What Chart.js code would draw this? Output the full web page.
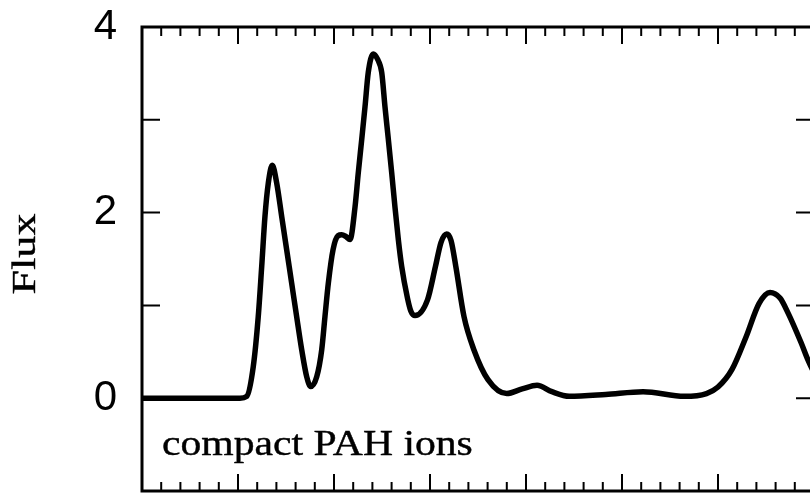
<!DOCTYPE html>
<html>
<head>
<meta charset="utf-8">
<script src="https://cdn.jsdelivr.net/npm/chart.js@4"></script>
<style>
  html, body { margin: 0; padding: 0; background: #fff; overflow: hidden; }
  #wrap { width: 830px; height: 493px; }
</style>
</head>
<body>
<div id="wrap"><canvas id="spectrum" width="830" height="493"></canvas></div>
<script>
// spectrum samples (x in axis units, flux)
const xPos = [0, 1.02, 1.091, 1.159, 1.211, 1.247, 1.281, 1.316, 1.357, 1.403, 1.455, 1.507, 1.559, 1.611, 1.664,
  1.716, 1.757, 1.820, 1.872, 1.906, 1.941, 1.990, 2.042, 2.080, 2.12, 2.167, 2.219, 2.253, 2.289, 2.323, 2.357,
  2.409, 2.455, 2.497, 2.531, 2.566, 2.601, 2.635, 2.670, 2.705, 2.765, 2.80, 2.844, 2.974, 3.057, 3.115, 3.174,
  3.219, 3.269, 3.354, 3.458, 3.604, 3.799, 3.96, 4.115, 4.27, 4.45, 4.83, 5.22, 5.65, 5.88, 6.0, 6.146, 6.292,
  6.427, 6.542, 6.646, 6.729, 6.865, 6.938, 7.06];
const flux = [0, 0, 0.02, 0.34, 0.88, 1.42, 1.96, 2.32, 2.51, 2.32, 1.96, 1.60, 1.24, 0.88, 0.52,
  0.23, 0.125, 0.23, 0.52, 0.88, 1.24, 1.60, 1.75, 1.76, 1.745, 1.71, 2.06, 2.43, 2.79, 3.14, 3.51,
  3.71, 3.65, 3.51, 3.14, 2.79, 2.43, 2.06, 1.71, 1.42, 1.08, 0.94, 0.89, 1.06, 1.42, 1.68, 1.77,
  1.70, 1.42, 0.88, 0.52, 0.2, 0.05, 0.10, 0.14, 0.07, 0.02, 0.04, 0.07, 0.02, 0.05, 0.12, 0.31, 0.66,
  1.02, 1.14, 1.08, 0.92, 0.6, 0.41, 0.15];

const yLabels = ['0', '2', '4'];
const yTitle = 'Flux';
const panelLabel = 'compact PAH ions';

// frame, inward ticks and text
const framePlugin = {
  id: 'frame',
  afterDraw(chart) {
    const { ctx, chartArea: a, scales: { x, y } } = chart;
    ctx.save();
    ctx.strokeStyle = '#000';
    ctx.lineWidth = 3;
    ctx.strokeRect(a.left, a.top, a.right - a.left, a.bottom - a.top);

    ctx.lineWidth = 2;
    ctx.beginPath();
    for (let i = 0; i <= 35; i++) {
      const v = i / 5;
      const px = x.getPixelForValue(v);
      const len = i % 5 === 0 ? 17 : 9;
      ctx.moveTo(px, a.top); ctx.lineTo(px, a.top + len);
      ctx.moveTo(px, a.bottom); ctx.lineTo(px, a.bottom - len);
    }
    for (let v = -1; v <= 4; v++) {
      const py = y.getPixelForValue(v);
      ctx.moveTo(a.left, py); ctx.lineTo(a.left + 18, py);
      ctx.moveTo(a.right, py); ctx.lineTo(a.right - 18, py);
    }
    ctx.stroke();

    ctx.fillStyle = '#000';
    ctx.lineWidth = 0.4;
    // axis title, stretched along its length
    ctx.save();
    ctx.translate(26, (a.top + a.bottom) / 2 - 5);
    ctx.rotate(-Math.PI / 2);
    ctx.scale(1.3, 1);
    ctx.font = '34px "Liberation Serif"';
    ctx.textAlign = 'center';
    ctx.textBaseline = 'middle';
    ctx.fillText(yTitle, 0, 0);
    ctx.strokeText(yTitle, 0, 0);
    ctx.restore();

    // panel label
    ctx.save();
    ctx.translate(a.left + 20, 455);
    ctx.scale(1.19, 1);
    ctx.font = '35px "Liberation Serif"';
    ctx.textAlign = 'left';
    ctx.textBaseline = 'alphabetic';
    ctx.fillText(panelLabel, 0, 0);
    ctx.strokeText(panelLabel, 0, 0);
    ctx.restore();
    ctx.restore();
  }
};

new Chart(document.getElementById('spectrum'), {
  type: 'line',
  data: {
    datasets: [{
      data: xPos.map((v, i) => ({ x: v, y: flux[i] })),
      borderColor: '#000',
      borderWidth: 5.5,
      pointRadius: 0,
      cubicInterpolationMode: 'monotone',
      fill: false
    }]
  },
  options: {
    responsive: false,
    animation: false,
    devicePixelRatio: 1,
    layout: { padding: { top: 27, right: 16, bottom: 2, left: 0 } },
    plugins: { legend: { display: false }, tooltip: { enabled: false } },
    scales: {
      x: { type: 'linear', min: 0, max: 7, display: false },
      y: {
        type: 'linear', min: -1, max: 4,
        afterFit(scale) {
          scale.width = 142;
          scale.paddingTop = 0;
          scale.paddingBottom = 0;
        },
        grid: { display: false, drawTicks: false },
        border: { display: false },
        ticks: {
          stepSize: 1,
          padding: 25,
          color: '#000',
          font: { family: '"Liberation Sans"', size: 42 },
          callback: v => yLabels.includes(String(v)) ? String(v) : ''
        }
      }
    }
  },
  plugins: [framePlugin]
});
</script>
</body>
</html>
